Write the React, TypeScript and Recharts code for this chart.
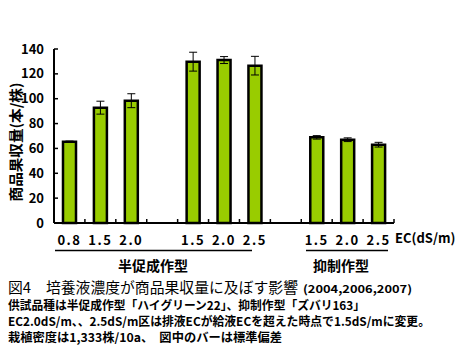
import React from "react";
import { BarChart, Bar, XAxis, YAxis, ErrorBar } from "recharts";

// EC levels (dS/m); empty strings are the gaps between the two cropping types
const ecLabels = ["0.8", "1.5", "2.0", "", "1.5", "2.0", "2.5", "", "1.5", "2.0", "2.5"];
const yieldValues = [65.4, 92.8, 98.4, null, 129.8, 131.1, 126.6, null, 68.9, 67, 63];
const sdValues = [0.5, 5.2, 5.6, null, 7.6, 2.8, 7.5, null, 1.4, 1.5, 1.9];
const yTicks = [0, 20, 40, 60, 80, 100, 120, 140];

const data = ecLabels.map((ec, i) => ({
  id: `c${i}`,
  ec,
  yield: yieldValues[i],
  sd: sdValues[i],
}));

const font = "'Noto Sans CJK JP', 'Noto Sans', sans-serif";

const XTick = (props: any) => {
  const { x, y, index, payload } = props;
  const half = payload && payload.offset ? payload.offset : 15.5;
  return (
    <g>
      <line x1={x + half} x2={x + half} y1={y} y2={y - 4} stroke="#000" strokeWidth={1.5} />
      <text
        x={x}
        y={y + 22}
        textAnchor="middle"
        fontFamily={font}
        fontWeight="bold"
        fontSize={13}
        letterSpacing={1.5}
        fill="#000"
      >
        {ecLabels[index]}
      </text>
    </g>
  );
};

export default function App() {
  return (
    <div style={{ position: "absolute", left: 0, top: 0, width: 462, height: 359, background: "#fff" }}>
      <BarChart
        width={462}
        height={359}
        data={data}
        margin={{ top: 49, right: 68, bottom: 106, left: 0 }}
        barCategoryGap={0}
      >
        <XAxis
          dataKey="id"
          height={30}
          tickLine={false}
          tickSize={0}
          tickMargin={0}
          interval={0}
          axisLine={{ stroke: "#000", strokeWidth: 2 }}
          tick={<XTick />}
        />
        <YAxis
          width={54}
          domain={[0, 140]}
          ticks={yTicks}
          interval={0}
          tickSize={-4}
          tickMargin={14}
          axisLine={{ stroke: "#000", strokeWidth: 2 }}
          tickLine={{ stroke: "#000", strokeWidth: 1.5 }}
          tick={{ fontFamily: font, fontWeight: "bold", fontSize: 13, fill: "#000" }}
        />
        <Bar dataKey="yield" fill="#99CC00" stroke="#000" strokeWidth={2.5} barSize={13} isAnimationActive={false}>
          <ErrorBar dataKey="sd" width={4} stroke="#000" strokeWidth={1} isAnimationActive={false} />
        </Bar>
      </BarChart>
      <svg
        width={462}
        height={359}
        style={{ position: "absolute", left: 0, top: 0, pointerEvents: "none" }}
        fontFamily={font}
        fontWeight="bold"
        fill="#000"
      >
        <text transform="translate(21,142) rotate(-90)" textAnchor="middle" fontSize={14} textLength={119} lengthAdjust="spacingAndGlyphs">
          商品果収量(本/株)
        </text>
        <text x={395} y={243} fontSize={13}>EC(dS/m)</text>
        <line x1={55} x2={252} y1={250.5} y2={250.5} stroke="#000" strokeWidth={1.5} />
        <line x1={306} x2={388} y1={250.5} y2={250.5} stroke="#000" strokeWidth={1.5} />
        <text x={153} y={271} textAnchor="middle" fontSize={14}>半促成作型</text>
        <text x={341} y={271} textAnchor="middle" fontSize={14}>抑制作型</text>
        <text x={8} y={292.5} fontSize={14.5} fontWeight="normal" textLength={290} lengthAdjust="spacingAndGlyphs">
          図4　培養液濃度が商品果収量に及ぼす影響
        </text>
        <text x={303} y={292.5} fontSize={11} textLength={109} lengthAdjust="spacingAndGlyphs">
          (2004,2006,2007)
        </text>
        <text x={8} y={309.5} fontSize={12} textLength={357} lengthAdjust="spacingAndGlyphs">
          供試品種は半促成作型「ハイグリーン22」、抑制作型「ズバリ163」
        </text>
        <text x={8} y={325.5} fontSize={12} textLength={422} lengthAdjust="spacingAndGlyphs">
          EC2.0dS/m、、2.5dS/m区は排液ECが給液ECを超えた時点で1.5dS/mに変更。
        </text>
        <text x={8} y={341.5} fontSize={12} textLength={274} lengthAdjust="spacingAndGlyphs">
          栽植密度は1,333株/10a、　図中のバーは標準偏差
        </text>
      </svg>
    </div>
  );
}
